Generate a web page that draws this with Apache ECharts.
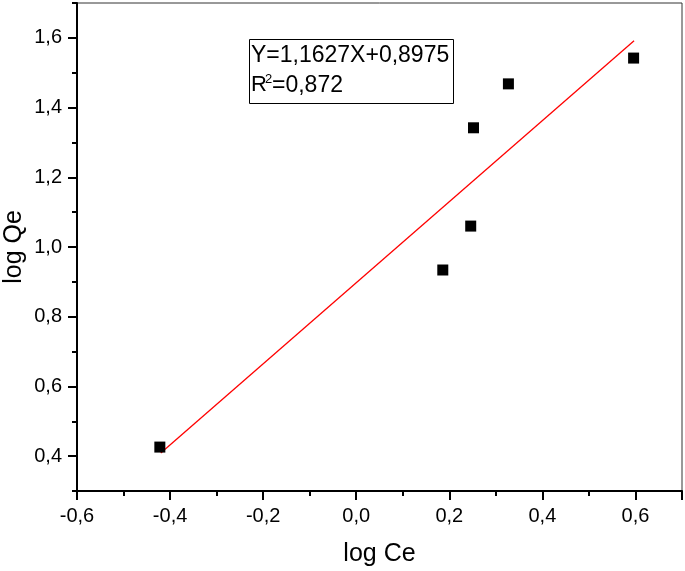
<!DOCTYPE html>
<html><head><meta charset="utf-8">
<script src="https://cdn.jsdelivr.net/npm/echarts@6/dist/echarts.min.js"></script>
<style>html,body{margin:0;padding:0;background:#fff}#c{width:685px;height:571px}</style>
</head><body><div id="c"></div>
<script>
const logCe = [-0.422, 0.186, 0.246, 0.252, 0.327, 0.596];
const logQe = [0.426, 0.934, 1.060, 1.342, 1.468, 1.542];
const fitX = [-0.420, 0.597];
const fitY = [0.409, 1.592];
const yMajorTicks = [0.4, 0.6, 0.8, 1.0, 1.2, 1.4, 1.6];
const eqLine1 = 'Y=1,1627X+0,8975';
const eqR = 'R';
const eqSup = '2';
const eqRest = '=0,872';
const xTitle = 'log Ce';
const yTitle = 'log Qe';

const F = '"Liberation Sans", Arial, sans-serif';
const fmt = v => (Math.abs(v) < 1e-9 ? 0 : v).toFixed(1).replace('.', ',');
const chart = echarts.init(document.getElementById('c'));
const tickLine = { color: '#000', width: 2 };
chart.setOption({
  backgroundColor: '#fff',
  animation: false,
  grid: { left: 77, right: 3, top: 3, bottom: 80, show: true, borderColor: '#333', borderWidth: 1,
    containLabel: false, outerBoundsMode: 'none' },
  xAxis: {
    type: 'value', min: -0.6, max: 0.7, interval: 0.2,
    name: xTitle, nameLocation: 'middle', nameGap: 51,
    nameTextStyle: { fontFamily: F, fontSize: 25, color: '#000' },
    axisLine: { onZero: false, lineStyle: { color: '#000', width: 2 } },
    axisTick: { length: 9, lineStyle: tickLine },
    minorTick: { show: true, splitNumber: 2, length: 5, lineStyle: tickLine },
    splitLine: { show: false },
    axisLabel: { fontFamily: F, fontSize: 20, color: '#000', margin: 15, formatter: fmt,
      showMaxLabel: false }
  },
  yAxis: [{
    type: 'value', min: 0.3, max: 1.7, interval: 0.1,
    name: yTitle, nameLocation: 'middle', nameGap: 50, nameRotate: 90,
    nameTextStyle: { fontFamily: F, fontSize: 25, color: '#000' },
    axisLine: { onZero: false, lineStyle: { color: '#000', width: 2 } },
    axisTick: { length: 5, lineStyle: tickLine },
    splitLine: { show: false },
    axisLabel: { show: false }
  }, {
    type: 'value', min: 0.3, max: 1.7, position: 'left', offset: 0,
    axisLine: { show: false, onZero: false },
    axisTick: { length: 9, lineStyle: tickLine, customValues: yMajorTicks },
    splitLine: { show: false },
    axisLabel: { fontFamily: F, fontSize: 20, color: '#000', margin: 15, formatter: fmt,
      customValues: yMajorTicks }
  }],
  series: [
    { type: 'line', data: fitX.map((x, i) => [x, fitY[i]]), showSymbol: false, symbol: 'none',
      lineStyle: { color: '#ff0000', width: 1.3 }, z: 2 },
    { type: 'scatter', data: logCe.map((x, i) => [x, logQe[i]]), symbol: 'rect', symbolSize: 11,
      itemStyle: { color: '#000', opacity: 1 }, z: 3 }
  ],
  graphic: [
    { type: 'rect', left: 249, top: 39, shape: { width: 204, height: 64 },
      style: { fill: '#fff', stroke: '#000', lineWidth: 1 }, z: 10 },
    { type: 'text', left: 251, top: 44, z: 11,
      style: { text: eqLine1, font: '23px ' + F, fill: '#000' } },
    { type: 'text', left: 251, top: 74, z: 11,
      style: { text: eqR, font: '22px ' + F, fill: '#000' } },
    { type: 'text', left: 265, top: 73, z: 11,
      style: { text: eqSup, font: '13px ' + F, fill: '#000' } },
    { type: 'text', left: 272, top: 74, z: 11,
      style: { text: eqRest, font: '23px ' + F, fill: '#000' } }
  ]
});
</script></body></html>
